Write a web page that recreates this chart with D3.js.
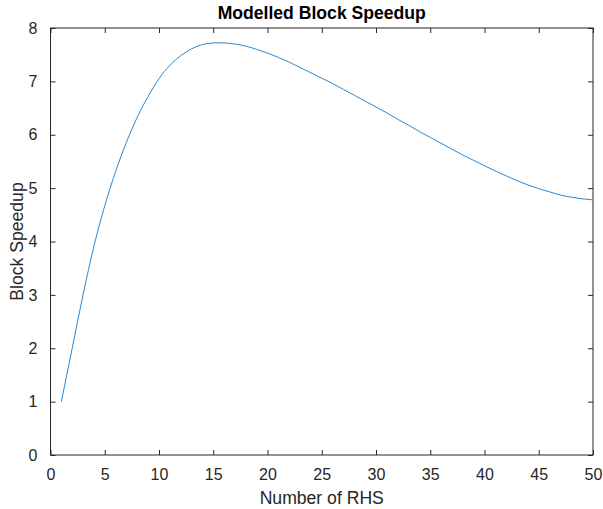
<!DOCTYPE html>
<html><head><meta charset="utf-8">
<script src="https://cdn.jsdelivr.net/npm/d3@7"></script>
<style>body{margin:0;background:#fff;}svg{display:block;}</style>
</head><body>
<script>
const xValues = [1,2,3,4,5,6,7,8,9,10,11,12,13,14,15,16,17,18,19,20,21,22,23,24,25,26,27,28,29,30,31,32,33,34,35,36,37,38,39,40,41,42,43,44,45,46,47,48,49,50];
const speedup = [1.00,2.00,3.00,3.91,4.67,5.31,5.86,6.33,6.72,7.05,7.30,7.48,7.61,7.69,7.72,7.72,7.70,7.66,7.60,7.53,7.45,7.36,7.26,7.16,7.06,6.96,6.85,6.74,6.63,6.52,6.41,6.29,6.18,6.06,5.95,5.84,5.73,5.62,5.52,5.42,5.32,5.23,5.14,5.06,4.99,4.93,4.87,4.83,4.80,4.78];
const xTicks = [0,5,10,15,20,25,30,35,40,45,50];
const yTicks = [0,1,2,3,4,5,6,7,8];
const titleText = "Modelled Block Speedup";
const xLabel = "Number of RHS";
const yLabel = "Block Speedup";

const W = 603, H = 509;
const m = {left: 50.5, right: 593, top: 28, bottom: 455};
const svg = d3.select("body").append("svg").attr("width", W).attr("height", H);
const font = "Arial, 'Liberation Sans', Helvetica, sans-serif";
const axCol = "#262626";

const x = d3.scaleLinear().domain([0,50]).range([m.left, m.right]);
const y = d3.scaleLinear().domain([0,8]).range([m.bottom, m.top]);

svg.append("rect").attr("x", m.left).attr("y", m.top).attr("width", m.right-m.left).attr("height", m.bottom-m.top)
  .attr("fill","none").attr("stroke",axCol).attr("stroke-width",1);

function styleAxis(g){
  g.select(".domain").remove();
  g.selectAll("line").attr("stroke",axCol).attr("stroke-width",1);
  g.selectAll("text").attr("fill",axCol).attr("font-family",font).attr("font-size","16px");
}
svg.append("g").attr("transform",`translate(0,${m.bottom})`)
  .call(d3.axisBottom(x).tickValues(xTicks).tickSizeInner(-5).tickSizeOuter(0).tickPadding(14).tickFormat(d3.format("d")))
  .call(styleAxis);
svg.append("g").attr("transform",`translate(0,${m.top})`)
  .call(d3.axisTop(x).tickValues(xTicks).tickSizeInner(-5).tickSizeOuter(0).tickFormat(""))
  .call(styleAxis);
svg.append("g").attr("transform",`translate(${m.left},0)`)
  .call(d3.axisLeft(y).tickValues(yTicks).tickSizeInner(-5).tickSizeOuter(0).tickPadding(13).tickFormat(d3.format("d")))
  .call(styleAxis);
svg.append("g").attr("transform",`translate(${m.right},0)`)
  .call(d3.axisRight(y).tickValues(yTicks).tickSizeInner(-5).tickSizeOuter(0).tickFormat(""))
  .call(styleAxis);

const line = d3.line().x((d,i)=>x(xValues[i])).y(d=>y(d)).curve(d3.curveNatural);
svg.append("path").datum(speedup).attr("d", line).attr("fill","none")
  .attr("stroke","#2a88cf").attr("stroke-width",1);

svg.append("text").attr("x",(m.left+m.right)/2).attr("y",18.5).attr("text-anchor","middle")
  .attr("font-family",font).attr("font-size","17.6px").attr("font-weight","bold").attr("fill","#000").text(titleText);
svg.append("text").attr("x",(m.left+m.right)/2).attr("y",504).attr("text-anchor","middle")
  .attr("font-family",font).attr("font-size","17.6px").attr("fill",axCol).text(xLabel);
svg.append("text").attr("transform",`translate(23,${(m.top+m.bottom)/2}) rotate(-90)`).attr("text-anchor","middle")
  .attr("font-family",font).attr("font-size","17.6px").attr("fill",axCol).text(yLabel);
</script>
</body></html>
